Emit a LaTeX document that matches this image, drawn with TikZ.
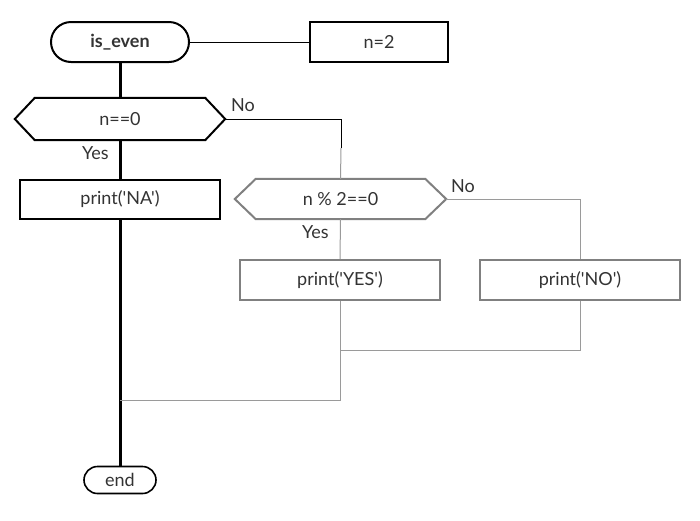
\documentclass[tikz,border=0pt]{standalone}
\usepackage{fontspec}
\setmainfont{Lato}[Ligatures=TeXOff]
\usetikzlibrary{shapes.misc,calc}
\definecolor{ink}{HTML}{333333}
\definecolor{greyline}{HTML}{808080}
\definecolor{wire}{HTML}{9A9A9A}
\begin{document}
\begin{tikzpicture}[x=1pt,y=-1pt,
  every node/.style={font=\fontsize{18}{20}\selectfont, text=ink, inner sep=0pt},
  term/.style={rounded rectangle, draw=black, line width=2pt, fill=white},
  box/.style={rectangle, draw=black, line width=2pt, fill=white},
  gbox/.style={rectangle, draw=greyline, line width=2pt, fill=white},
  hexslot/.style={rectangle, draw=none},
  trunk/.style={line width=3pt, black},
  link/.style={line width=1pt, black},
  glink/.style={line width=1pt, wire},
  lbl/.style={anchor=west}]
\useasboundingbox (0,0) rectangle (700,520);

% main column
\node[term, minimum width=138pt, minimum height=40pt, font=\fontsize{18}{20}\selectfont\bfseries] (start) at (120,42) {is\_even};
\node[box, minimum width=138pt, minimum height=40pt] (arg) at (379,42) {n=2};
\node[hexslot, minimum width=210pt, minimum height=42pt] (h1) at (120,119) {n==0};
\node[box, minimum width=200pt, minimum height=39pt] (na) at (120,199.5) {print('NA')};
\node[term, minimum width=72pt, minimum height=27pt, line width=1.6pt] (stop) at (120,480) {end};

% inner branch
\node[hexslot, minimum width=211pt, minimum height=40pt] (h2) at (340.5,199) {n \% 2==0};
\node[gbox, minimum width=200pt, minimum height=40pt] (yes) at (340,280) {print('YES')};
\node[gbox, minimum width=200pt, minimum height=40pt] (no) at (580,280) {print('NO')};

% decision outlines
\draw[line width=2pt, black] (h1.west) -- ($(h1.north west)+(20,0)$) -- ($(h1.north east)+(-20,0)$)
  -- (h1.east) -- ($(h1.south east)+(-20,0)$) -- ($(h1.south west)+(20,0)$) -- cycle;
\draw[line width=2pt, draw=greyline] (h2.west) -- ($(h2.north west)+(21,0)$) -- ($(h2.north east)+(-21,0)$)
  -- (h2.east) -- ($(h2.south east)+(-21,0)$) -- ($(h2.south west)+(21,0)$) -- cycle;

% junction points
\coordinate (k1) at (341,148);
\coordinate (m1) at (341,350);
\coordinate (m2) at (120,400);

% connectors
\draw[link] (start.east) -- (arg.west);
\draw[trunk] (start.south) -- (h1.north);
\draw[trunk] (h1.south) -- (na.north);
\draw[trunk] (na.south) -- (stop.north);
\draw[link] (h1.east) -| (k1);
\draw[glink] (k1) -- (h2.north);
\draw[glink] (h2.south) -- (yes.north);
\draw[glink] (h2.east) -| (no.north);
\draw[glink] (no.south) |- (m1);
\draw[glink] (yes.south) |- (m2);

% branch labels
\node[lbl] (n1) at (231,105) {No};
\node[lbl] (y1) at (82,153) {Yes};
\node[lbl] (n2) at (451,186) {No};
\node[lbl] (y2) at (302,232) {Yes};
\end{tikzpicture}
\end{document}
